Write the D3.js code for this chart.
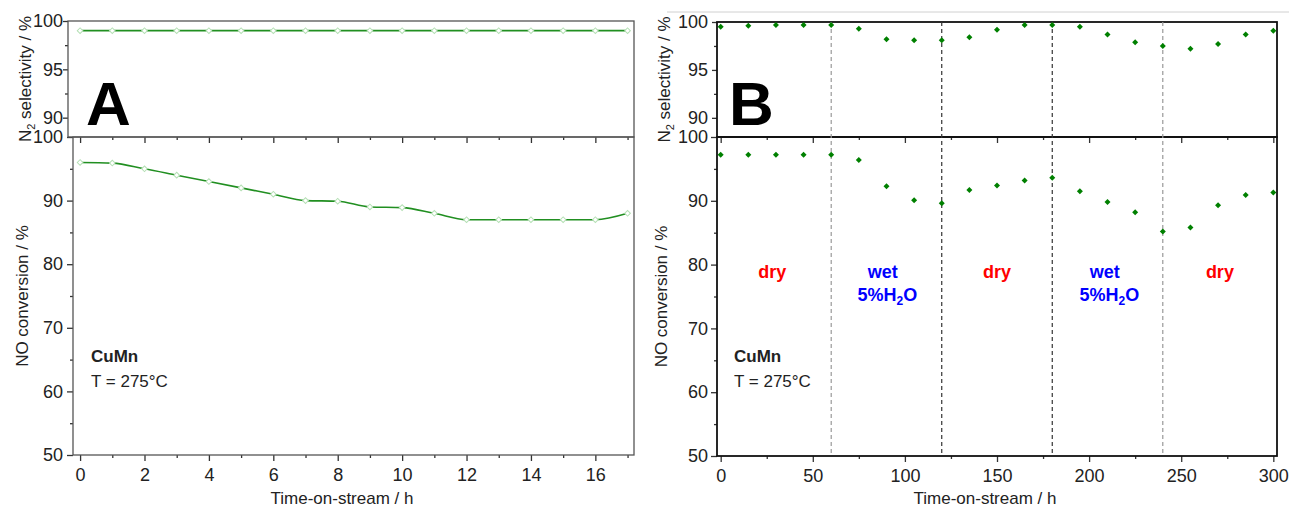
<!DOCTYPE html>
<html>
<head>
<meta charset="utf-8">
<script src="https://cdn.jsdelivr.net/npm/d3@7"></script>
<style>
  body { margin: 0; background: #fff; }
  svg { font-family: "Liberation Sans", Arial, sans-serif; }
</style>
</head>
<body>
<script>
// ---- data ----
const hoursA = [0, 1, 2, 3, 4, 5, 6, 7, 8, 9, 10, 11, 12, 13, 14, 15, 16, 17]
const selectA = [99, 99, 99, 99, 99, 99, 99, 99, 99, 99, 99, 99, 99, 99, 99, 99, 99, 99]
const convA = [96, 95.9, 95, 94, 93, 92, 91, 90, 89.9, 89, 88.9, 88, 87, 87, 87, 87, 87, 88]

const hoursB = [0, 15, 30, 45, 60, 75, 90, 105, 120, 135, 150, 165, 180, 195, 210, 225, 240, 255, 270, 285, 300]
const selectB = [99.5, 99.6, 99.7, 99.7, 99.7, 99.3, 98.2, 98.1, 98.1, 98.4, 99.2, 99.7, 99.7, 99.5, 98.7, 97.9, 97.5, 97.2, 97.7, 98.7, 99.1]
const convB = [97.2, 97.2, 97.2, 97.2, 97.2, 96.4, 92.3, 90.1, 89.6, 91.7, 92.4, 93.2, 93.6, 91.5, 89.8, 88.2, 85.2, 85.8, 89.3, 90.9, 91.3]

const switchB = [60, 120, 180, 240]
const switchShade = ["#999", "#333", "#333", "#999"]

const phaseLabels = ["dry", "wet", "dry", "wet", "dry"]
const phaseAt = [28, 88, 150, 208.5, 271]

const ticksSelect = [90, 95, 100]
const minorSelect = [92.5, 97.5]
const ticksConv = [50, 60, 70, 80, 90, 100]
const minorConv = [55, 65, 75, 85, 95]
const ticksA = [0, 2, 4, 6, 8, 10, 12, 14, 16]
const minorA = [1, 3, 5, 7, 9, 11, 13, 15, 17]
const ticksB = [0, 50, 100, 150, 200, 250, 300]
const minorB = [25, 75, 125, 175, 225, 275]

const WIDTH = 1289
const HEIGHT = 508

const svg = d3.select("body").append("svg")
    .attr("width", WIDTH)
    .attr("height", HEIGHT)

// light rule over panel B
svg.append("line")
    .attr("x1", 667).attr("x2", 1289)
    .attr("y1", 12).attr("y2", 12)
    .attr("stroke", "#d0d0d0").attr("stroke-width", 1)

function drawAxis(g, axis, minor, major, bigLen, pad, labels) {
    g.append("g").call(axis.tickValues(minor).tickSize(3).tickFormat(""))
    g.append("g").call(axis.tickValues(major).tickSize(bigLen).tickPadding(pad)
        .tickFormat(labels ? d3.format("") : ""))
    g.selectAll(".domain").remove()
    g.selectAll("line").attr("stroke", "#333").attr("stroke-width", 1.3)
    g.selectAll("text").attr("font-size", 18).attr("fill", "#222")
}

function panel(o) {
    const g = svg.append("g")
    const x = d3.scaleLinear().domain(o.xDom).range([o.left, o.right])
    const yTop = d3.scaleLinear().domain([88, 100]).range([137, o.top])
    const yBot = d3.scaleLinear().domain([50, 100]).range([o.bottom, 137])

    // axes
    drawAxis(g.append("g").attr("transform", `translate(${o.topLeft},0)`),
        d3.axisLeft(yTop), minorSelect, ticksSelect, 5, o.topLeft - o.labelEnd - 5, true)
    drawAxis(g.append("g").attr("transform", `translate(${o.left},0)`),
        d3.axisLeft(yBot), minorConv, ticksConv, 6, o.left - o.labelEnd - 6, true)
    drawAxis(g.append("g").attr("transform", `translate(0,${o.bottom})`),
        d3.axisBottom(x), o.minorX, o.ticksX, 6, 7, true)
    // inward ticks on the top edge of the lower box
    drawAxis(g.append("g").attr("transform", `translate(0,137)`),
        d3.axisBottom(x), o.minorX, o.ticksX, 6, 3, false)

    // frames
    g.append("rect")
        .attr("x", o.topLeft).attr("y", o.top)
        .attr("width", o.right - o.topLeft).attr("height", 137 - o.top)
        .attr("fill", "none").attr("stroke", o.frame).attr("stroke-width", o.frameW)
    g.append("rect")
        .attr("x", o.left).attr("y", 137)
        .attr("width", o.right - o.left).attr("height", o.bottom - 137)
        .attr("fill", "none").attr("stroke", o.frame).attr("stroke-width", o.frameW)

    // axis titles
    const yt1 = g.append("text")
        .attr("transform", `translate(${o.titleX},${(o.top + 137) / 2}) rotate(-90)`)
        .attr("text-anchor", "middle").attr("font-size", 17).attr("fill", "#222")
    yt1.append("tspan").text("N")
    yt1.append("tspan").text("2").attr("font-size", 11).attr("dy", 4)
    yt1.append("tspan").text(" selectivity / %").attr("dy", -4)

    g.append("text")
        .attr("transform", `translate(${o.titleX - 3},${(o.bottom + 137) / 2}) rotate(-90)`)
        .attr("text-anchor", "middle").attr("font-size", 17).attr("fill", "#222")
        .text("NO conversion / %")

    g.append("text")
        .attr("x", o.xTitle).attr("y", 504)
        .attr("text-anchor", "middle").attr("font-size", 17).attr("fill", "#222")
        .text("Time-on-stream / h")

    // big panel letter
    g.append("text")
        .attr("x", o.letterX).attr("y", 125)
        .attr("font-size", 62).attr("font-weight", "bold")
        .text(o.letter)

    g.append("text")
        .attr("x", o.noteX).attr("y", 362)
        .attr("font-size", 17).attr("font-weight", "bold").attr("fill", "#222")
        .text("CuMn")
    g.append("text")
        .attr("x", o.noteX).attr("y", 387)
        .attr("font-size", 17).attr("fill", "#222")
        .text("T = 275\u00B0C")

    return { g, x, yTop, yBot }
}

// ---------- panel A ----------
const A = panel({
    xDom: [-0.22, 17.2], left: 73, right: 634, topLeft: 68, top: 21, bottom: 455,
    ticksX: ticksA, minorX: minorA, frame: "#555", frameW: 1.3, labelEnd: 63, titleX: 31,
    xTitle: 342, letter: "A", letterX: 86, noteX: 91
})

const lineA = (ys) => d3.line()
    .x((d, i) => A.x(hoursA[i]))
    .y(d => ys(d))
    .curve(d3.curveMonotoneX)

A.g.append("path").datum(selectA)
    .attr("d", lineA(A.yTop))
    .attr("fill", "none").attr("stroke", "#218f21").attr("stroke-width", 1.6)
A.g.append("path").datum(convA)
    .attr("d", lineA(A.yBot))
    .attr("fill", "none").attr("stroke", "#218f21").attr("stroke-width", 1.6)

const hollow = d3.symbol(d3.symbolSquare, 16)
A.g.selectAll(".mA1").data(selectA).join("path")
    .attr("transform", (d, i) => `translate(${A.x(hoursA[i])},${A.yTop(d)}) rotate(45)`)
    .attr("d", hollow).attr("fill", "#fff").attr("stroke", "#b5e0b5").attr("stroke-width", 1)
A.g.selectAll(".mA2").data(convA).join("path")
    .attr("transform", (d, i) => `translate(${A.x(hoursA[i])},${A.yBot(d)}) rotate(45)`)
    .attr("d", hollow).attr("fill", "#fff").attr("stroke", "#b5e0b5").attr("stroke-width", 1)

// ---------- panel B ----------
const B = panel({
    xDom: [-2, 302], left: 717, right: 1277, topLeft: 717, top: 22, bottom: 456,
    ticksX: ticksB, minorX: minorB, frame: "#111", frameW: 1.8, labelEnd: 708, titleX: 670,
    xTitle: 985, letter: "B", letterX: 729, noteX: 734
})

B.g.selectAll(".switch").data(switchB).join("line")
    .attr("x1", d => B.x(d)).attr("x2", d => B.x(d))
    .attr("y1", 22).attr("y2", 456)
    .attr("stroke", (d, i) => switchShade[i]).attr("stroke-width", 1.2)
    .attr("stroke-dasharray", "4,3")

const dot = d3.symbol(d3.symbolSquare, 18)
B.g.selectAll(".mB1").data(selectB).join("path")
    .attr("transform", (d, i) => `translate(${B.x(hoursB[i])},${B.yTop(d)}) rotate(45)`)
    .attr("d", dot).attr("fill", "#008000")
B.g.selectAll(".mB2").data(convB).join("path")
    .attr("transform", (d, i) => `translate(${B.x(hoursB[i])},${B.yBot(d)}) rotate(45)`)
    .attr("d", dot).attr("fill", "#008000")

phaseLabels.forEach((lab, i) => {
    const wet = lab === "wet"
    B.g.append("text")
        .attr("x", B.x(phaseAt[i])).attr("y", 278)
        .attr("text-anchor", "middle").attr("font-size", 18).attr("font-weight", "bold")
        .attr("fill", wet ? "#0000ff" : "#ff0000")
        .text(lab)
    if (wet) {
        const t = B.g.append("text")
            .attr("x", B.x(phaseAt[i] + 2.5)).attr("y", 301)
            .attr("text-anchor", "middle").attr("font-size", 18).attr("font-weight", "bold")
            .attr("fill", "#0000ff")
        t.append("tspan").text("5%H")
        t.append("tspan").text("2").attr("font-size", 12).attr("dy", 4)
        t.append("tspan").text("O").attr("dy", -4)
    }
})
</script>
</body>
</html>
